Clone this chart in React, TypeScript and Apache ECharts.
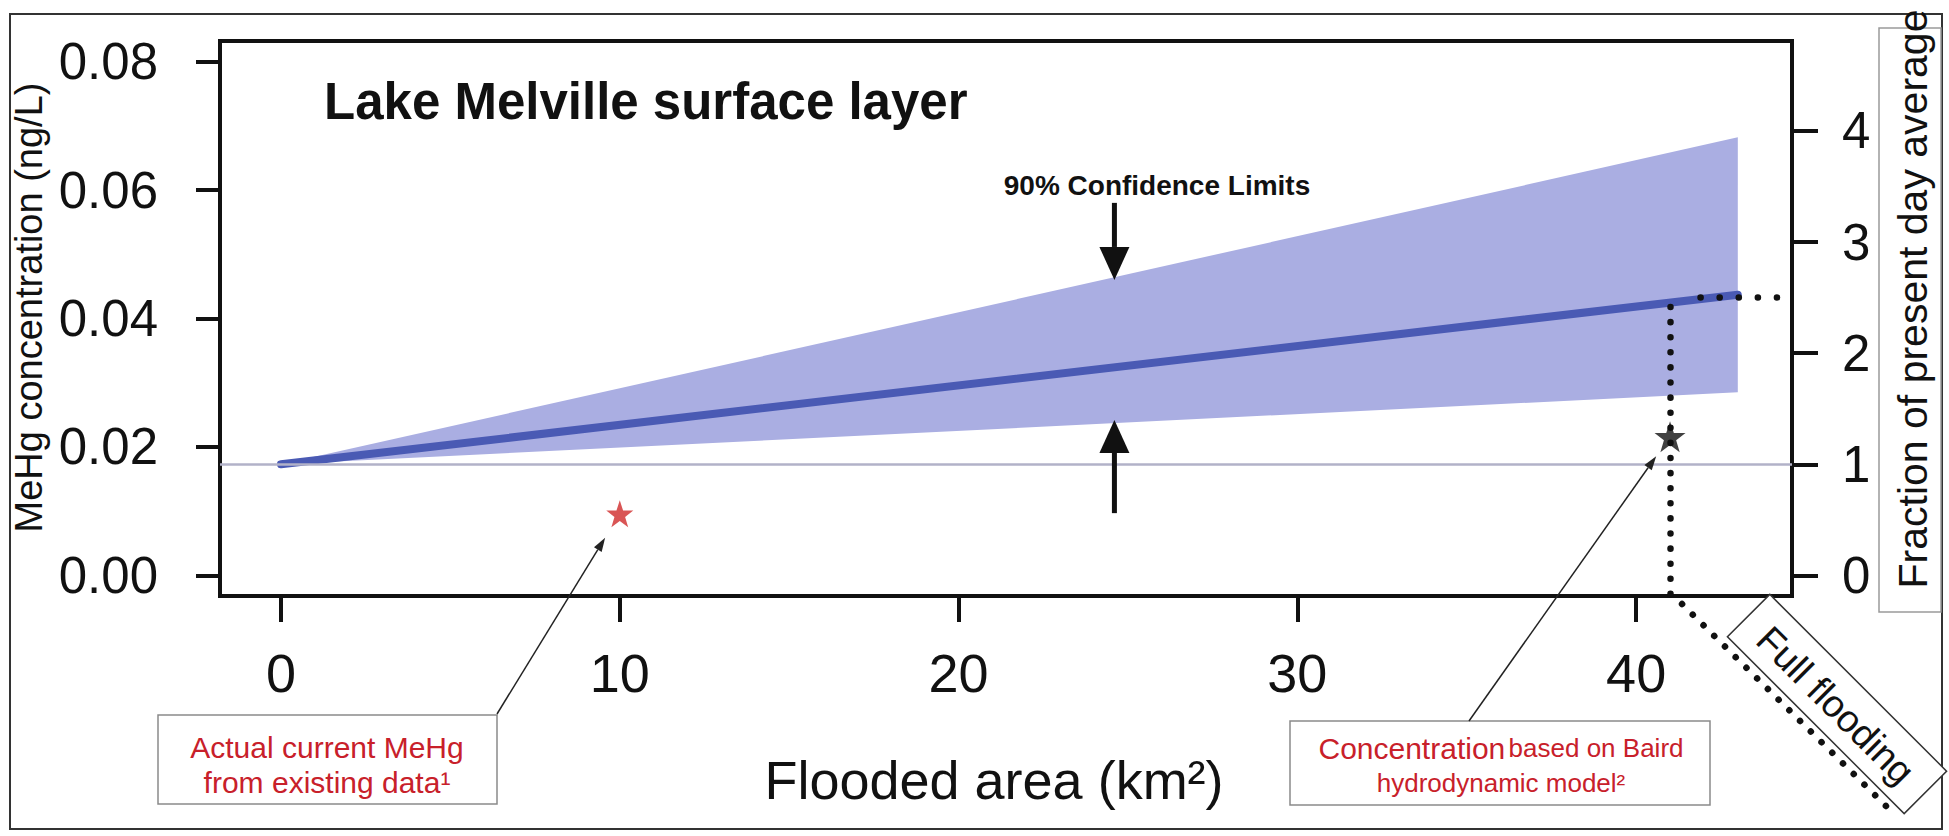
import React, { useEffect, useRef } from "react";
import * as echarts from "echarts";

const FONT = "'Liberation Sans', Arial, Helvetica, sans-serif";

// ---- data ----
const xKm = [0, 43];
const meanConc = [0.0173, 0.0437];
const lowerConc = [0.0173, 0.0285];
const upperConc = [0.0173, 0.0682];
const presentDayAvg = 0.0173; // ratio 1 on right axis
const currentPoint = [10, 0.0096];
const bairdPoint = [41, 0.0216];
const fullFloodKm = 41;
const fullFloodMean = 0.0418;
const fullFloodRatio = 2.5;
const leftTicks = [0, 0.02, 0.04, 0.06, 0.08];
const rightTicks = [0, 1, 2, 3, 4];
const xTicks = [0, 10, 20, 30, 40];
const ciArrowKm = 24.6;
const ciDownArrow = [0.058, 0.046];
const ciUpArrow = [0.0097, 0.0242];

const X_MIN = -1.8;
const X_MAX = 44.6;
const Y_MIN = -0.0032;
const Y_MAX = 0.0832;

const STAR =
  "path://M12,1 L14.8,9.2 L23.4,9.2 L16.5,14.3 L19.1,22.6 L12,17.5 L4.9,22.6 L7.5,14.3 L0.6,9.2 L9.2,9.2 Z";

function arrow(from: number[], tip: number[], headLen: number, headW: number, lw: number, color: string) {
  const dx = tip[0] - from[0];
  const dy = tip[1] - from[1];
  const len = Math.hypot(dx, dy);
  const ux = dx / len;
  const uy = dy / len;
  const base = [tip[0] - ux * headLen, tip[1] - uy * headLen];
  const nx = -uy;
  const ny = ux;
  return [
    {
      type: "line",
      z: 20,
      shape: { x1: from[0], y1: from[1], x2: base[0], y2: base[1] },
      style: { stroke: color, lineWidth: lw },
    },
    {
      type: "polygon",
      z: 20,
      shape: {
        points: [
          [tip[0], tip[1]],
          [base[0] + (nx * headW) / 2, base[1] + (ny * headW) / 2],
          [base[0] - (nx * headW) / 2, base[1] - (ny * headW) / 2],
        ],
      },
      style: { fill: color },
    },
  ];
}

export default function App() {
  const ref = useRef<HTMLDivElement>(null);

  useEffect(() => {
    document.body.style.margin = "0";
    const chart = echarts.init(ref.current!, null, { renderer: "svg" });
    const black = "#111";
    const axisLine = { show: true, onZero: false, lineStyle: { color: black, width: 4 } };
    const tickStyle = { color: black, width: 4 };

    chart.setOption({
      animation: false,
      backgroundColor: "#ffffff",
      title: {
        text: "Lake Melville surface layer",
        left: 324,
        top: 76,
        padding: 0,
        textStyle: { fontFamily: FONT, fontSize: 51, fontWeight: "bold", color: black },
      },
      grid: {
        left: 220,
        right: 157,
        top: 41,
        bottom: 240,
        show: true,
        borderColor: black,
        borderWidth: 4,
        backgroundColor: "transparent",
      },
      xAxis: {
        type: "value",
        min: X_MIN,
        max: X_MAX,
        axisLine,
        axisTick: { show: true, customValues: xTicks, length: 26, lineStyle: tickStyle },
        axisLabel: { customValues: xTicks, margin: 50, fontSize: 54, fontFamily: FONT, color: black },
        splitLine: { show: false },
        name: "Flooded area (km²)",
        nameLocation: "middle",
        nameGap: 157,
        nameTextStyle: { fontSize: 54, fontFamily: FONT, color: black, padding: [0, 24, 0, 0] },
      },
      yAxis: [
        {
          type: "value",
          position: "left",
          min: Y_MIN,
          max: Y_MAX,
          axisLine,
          axisTick: { show: true, customValues: leftTicks, length: 24, lineStyle: tickStyle },
          axisLabel: {
            customValues: leftTicks,
            margin: 62,
            fontSize: 51,
            fontFamily: FONT,
            color: black,
            formatter: (v: number) => v.toFixed(2),
          },
          splitLine: { show: false },
          name: "MeHg concentration (ng/L)",
          nameLocation: "middle",
          nameRotate: 90,
          nameGap: 163,
          nameTextStyle: { fontSize: 38, fontFamily: FONT, color: black, padding: [0, 0, 0, 22] },
        },
        {
          type: "value",
          position: "right",
          min: Y_MIN / presentDayAvg,
          max: Y_MAX / presentDayAvg,
          axisLine,
          axisTick: { show: true, customValues: rightTicks, length: 26, lineStyle: tickStyle },
          axisLabel: {
            customValues: rightTicks,
            margin: 50,
            fontSize: 51,
            fontFamily: FONT,
            color: black,
            formatter: (v: number) => String(Math.round(v)),
          },
          splitLine: { show: false },
          name: "Fraction of present day average",
          nameLocation: "middle",
          nameRotate: 90,
          nameGap: 100,
          nameTextStyle: { fontSize: 41, fontFamily: FONT, color: black, padding: [0, 0, 0, 39] },
        },
      ],
      series: [
        {
          name: "90% confidence band",
          type: "custom",
          silent: true,
          z: 1,
          data: [[xKm[0], lowerConc[0]]],
          renderItem: (_params: any, api: any) => {
            const pts: number[][] = [];
            xKm.forEach((x, i) => pts.push(api.coord([x, upperConc[i]])));
            for (let i = xKm.length - 1; i >= 0; i--) pts.push(api.coord([xKm[i], lowerConc[i]]));
            return { type: "polygon", shape: { points: pts }, style: { fill: "#aaaee2" } };
          },
        },
        {
          name: "Predicted MeHg",
          type: "line",
          data: xKm.map((x, i) => [x, meanConc[i]]),
          symbol: "none",
          lineStyle: { color: "#4a5ab4", width: 8, cap: "round" },
          z: 3,
          markLine: {
            silent: true,
            symbol: ["none", "none"],
            label: { show: false },
            data: [
              [
                { coord: [X_MIN, presentDayAvg], lineStyle: { color: "#b2b2c8", width: 2.5, type: "solid" } },
                { coord: [X_MAX, presentDayAvg] },
              ],
              [
                {
                  coord: [fullFloodKm, fullFloodMean],
                  lineStyle: { color: black, width: 6.5, type: [0.1, 15], cap: "round" },
                },
                { coord: [fullFloodKm, Y_MIN] },
              ],
              [
                {
                  coord: [41.9, fullFloodRatio * presentDayAvg],
                  lineStyle: { color: black, width: 6.5, type: [0.1, 19], cap: "round" },
                },
                { coord: [X_MAX, fullFloodRatio * presentDayAvg] },
              ],
            ],
          },
        },
        {
          name: "Actual current MeHg",
          type: "scatter",
          data: [currentPoint],
          symbol: STAR,
          symbolSize: 27,
          itemStyle: { color: "#cf2b2b" },
          z: 5,
        },
        {
          name: "Baird hydrodynamic model",
          type: "scatter",
          data: [bairdPoint],
          symbol: STAR,
          symbolSize: 31,
          itemStyle: { color: black },
          z: 5,
        },
      ],
    });

    const px = (p: number[]) => chart.convertToPixel({ seriesIndex: 1 }, p) as number[];
    const s1 = px(currentPoint);
    const s2 = px(bairdPoint);
    const toward = (from: number[], to: number[], gap: number) => {
      const dx = to[0] - from[0];
      const dy = to[1] - from[1];
      const l = Math.hypot(dx, dy);
      return [to[0] - (dx / l) * gap, to[1] - (dy / l) * gap];
    };
    const c1From = [497, 714];
    const c2From = [1469, 721];
    const flood = px([fullFloodKm, Y_MIN]);
    const red = "#c8202a";

    const graphic: any[] = [
      {
        type: "rect",
        z: 0,
        shape: { x: 10, y: 14, width: 1932, height: 815 },
        style: { fill: "none", stroke: "#333", lineWidth: 2 },
      },
      {
        type: "rect",
        z: 0,
        shape: { x: 1879, y: 28, width: 62, height: 584 },
        style: { fill: "none", stroke: "#9a9a9a", lineWidth: 1.5 },
      },
      {
        type: "text",
        z: 20,
        style: {
          text: "90% Confidence Limits",
          x: 1157,
          y: 185,
          align: "center",
          verticalAlign: "middle",
          fontFamily: FONT,
          fontSize: 28,
          fontWeight: "bold",
          fill: black,
        },
      },
      ...arrow(px([ciArrowKm, ciDownArrow[0]]), px([ciArrowKm, ciDownArrow[1]]), 33, 30, 5, black),
      ...arrow(px([ciArrowKm, ciUpArrow[0]]), px([ciArrowKm, ciUpArrow[1]]), 33, 30, 5, black),
      ...arrow(c1From, toward(c1From, s1, 28), 14, 9, 1.5, "#222"),
      ...arrow(c2From, toward(c2From, s2, 24), 14, 9, 1.5, "#222"),
      {
        type: "line",
        z: 20,
        shape: { x1: flood[0] + 12, y1: flood[1] + 8, x2: flood[0] + 218, y2: flood[1] + 212 },
        style: { stroke: black, lineWidth: 6.5, lineDash: [0.1, 15], lineCap: "round" },
      },
      {
        type: "group",
        x: 1837,
        y: 704,
        rotation: -Math.PI / 4,
        children: [
          {
            type: "rect",
            z: 15,
            shape: { x: -125, y: -30, width: 250, height: 60 },
            style: { fill: "#fff", stroke: "#333", lineWidth: 1.5 },
          },
          {
            type: "text",
            z: 16,
            style: {
              text: "Full flooding",
              x: 0,
              y: 2,
              align: "center",
              verticalAlign: "middle",
              fontFamily: FONT,
              fontSize: 38,
              fill: black,
            },
          },
        ],
      },
      {
        type: "rect",
        z: 15,
        shape: { x: 158, y: 715, width: 339, height: 89 },
        style: { fill: "#fff", stroke: "#8a8a8a", lineWidth: 1.5 },
      },
      {
        type: "text",
        z: 16,
        style: {
          text: "Actual current MeHg",
          x: 327,
          y: 747,
          align: "center",
          verticalAlign: "middle",
          fontFamily: FONT,
          fontSize: 30,
          fill: red,
        },
      },
      {
        type: "text",
        z: 16,
        style: {
          text: "from existing data¹",
          x: 327,
          y: 782,
          align: "center",
          verticalAlign: "middle",
          fontFamily: FONT,
          fontSize: 30,
          fill: red,
        },
      },
      {
        type: "rect",
        z: 15,
        shape: { x: 1290, y: 721, width: 420, height: 84 },
        style: { fill: "#fff", stroke: "#8a8a8a", lineWidth: 1.5 },
      },
      {
        type: "text",
        z: 16,
        style: {
          text: "{a|Concentration} {b|based on Baird}",
          x: 1501,
          y: 748,
          align: "center",
          verticalAlign: "middle",
          fontFamily: FONT,
          fill: red,
          rich: {
            a: { fontFamily: FONT, fontSize: 30, fill: red },
            b: { fontFamily: FONT, fontSize: 26, fill: red },
          },
        },
      },
      {
        type: "text",
        z: 16,
        style: {
          text: "hydrodynamic model²",
          x: 1501,
          y: 783,
          align: "center",
          verticalAlign: "middle",
          fontFamily: FONT,
          fontSize: 26,
          fill: red,
        },
      },
    ];
    chart.setOption({ graphic });

    return () => chart.dispose();
  }, []);

  return <div ref={ref} style={{ width: 1949, height: 836 }} />;
}
